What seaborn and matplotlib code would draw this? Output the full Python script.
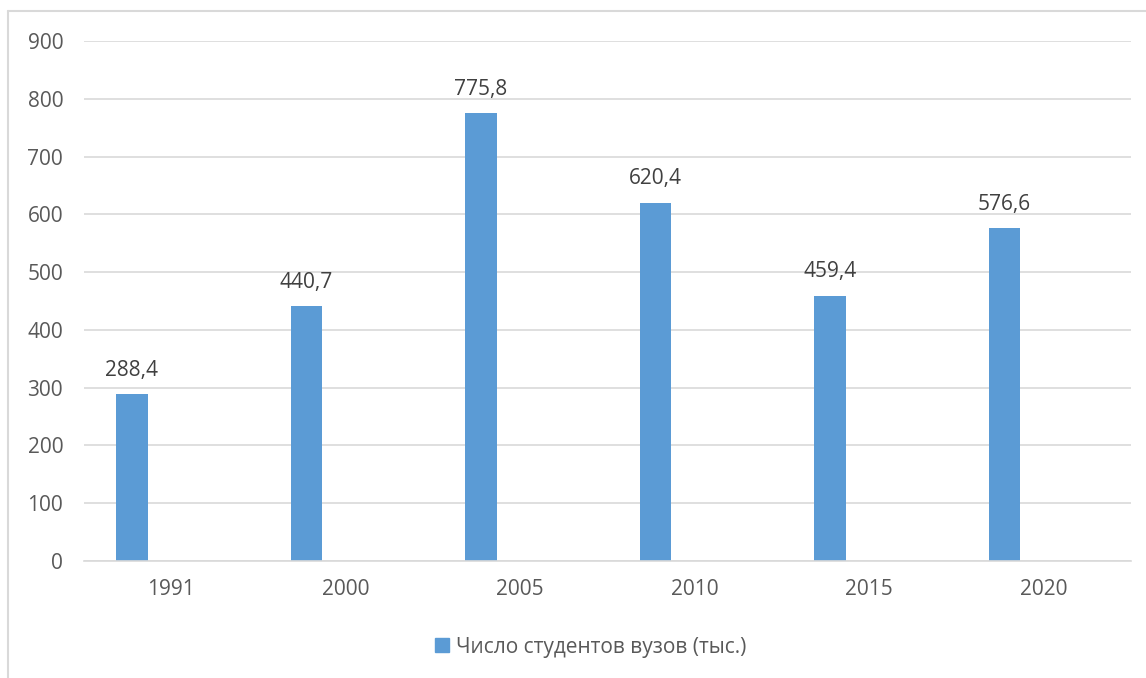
import numpy as np
import pandas as pd
import matplotlib
matplotlib.use("Agg")
import matplotlib.pyplot as plt
import seaborn as sns
from matplotlib.lines import Line2D

years = ["1991", "2000", "2005", "2010", "2015", "2020"]
students = [288.4, 440.7, 775.8, 620.4, 459.4, 576.6]
series_name = "Число студентов вузов (тыс.)"

BAR_COLOR = "#5B9BD5"
TEXT_COLOR = "#595959"
GRID_COLOR = "#D9D9D9"

sns.set_style("white")
plt.rcParams["font.family"] = ["Open Sans", "DejaVu Sans"]

df = pd.DataFrame({"year": years, "value": students})

fig = plt.figure(figsize=(11.46, 6.78), dpi=100)
ax = fig.add_axes([84 / 1146, 1 - 561 / 678, (1131 - 84) / 1146, (561 - 41) / 678])

sns.barplot(data=df, x="year", y="value", color=BAR_COLOR, width=0.178,
            saturation=1, linewidth=0, ax=ax)

# bars sit left of the category centre (excel clustered layout)
offset = 0.2235
ax.set_xlim(-0.275, 5.725)
ax.set_xticks(np.arange(len(years)) + offset, labels=years)
ax.set_ylim(0, 900)
ax.set_yticks(range(0, 901, 100))
ax.set_xlabel("")
ax.set_ylabel("")

ax.yaxis.grid(True, color=GRID_COLOR, linewidth=1.2)
ax.set_axisbelow(True)
for side in ["top", "right", "left"]:
    ax.spines[side].set_visible(False)
ax.spines["bottom"].set_color(GRID_COLOR)
ax.spines["bottom"].set_linewidth(1.2)
ax.tick_params(axis="both", length=0, labelsize=15, labelcolor=TEXT_COLOR)
ax.tick_params(axis="y", pad=15)
ax.tick_params(axis="x", pad=13)

for p, v in zip(ax.patches, students):
    ax.annotate(f"{v:.1f}".replace(".", ","),
                (p.get_x() + p.get_width() / 2, p.get_height()),
                xytext=(0, 17), textcoords="offset points",
                ha="center", va="center", fontsize=15, color="#404040")

handle = Line2D([], [], marker="s", linestyle="", markersize=10,
                color=BAR_COLOR)
fig.legend([handle], [series_name], loc="center", bbox_to_anchor=(0.514, 1 - 647 / 678),
           frameon=False, fontsize=15, labelcolor=TEXT_COLOR,
           handletextpad=0.2, handlelength=1)

# chart frame (left and top edges visible in the crop)
fig.add_artist(Line2D([8 / 1146, 8 / 1146], [0, 1 - 11 / 678], transform=fig.transFigure,
                      color=GRID_COLOR, linewidth=1.5))
fig.add_artist(Line2D([8 / 1146, 1], [1 - 11 / 678, 1 - 11 / 678], transform=fig.transFigure,
                      color=GRID_COLOR, linewidth=1.5))

fig.savefig("out.png", dpi=100)
